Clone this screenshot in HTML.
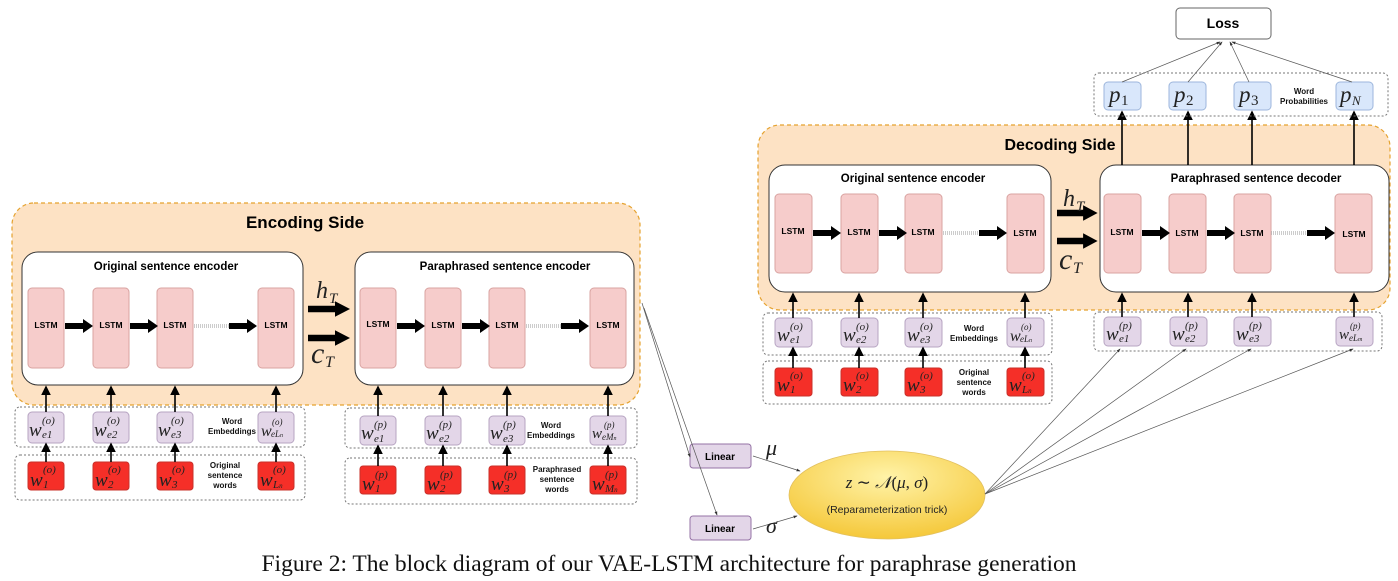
<!DOCTYPE html>
<html><head><meta charset="utf-8"><style>
html,body{margin:0;padding:0;background:#fff;}
svg{display:block;}
.t{font-family:"Liberation Sans",sans-serif;}
.b{font-family:"Liberation Sans",sans-serif;font-weight:bold;}
.m{font-family:"Liberation Serif",serif;font-style:italic;font-size:19px;fill:#222;}
.s{font-family:"Liberation Serif",serif;font-style:italic;font-size:11px;fill:#222;}
.lstm{fill:#f6cccb;stroke:#d9a3a1;stroke-width:1;}
.pu{fill:#e3d6e8;stroke:#b7a4c2;stroke-width:1;}
.rd{fill:#f52f28;stroke:#c9302a;stroke-width:1;}
.bl{fill:#d9e7fb;stroke:#9db6dc;stroke-width:1;}
.dot{fill:none;stroke:#777;stroke-width:1;stroke-dasharray:2,2;}
.wh{fill:#fff;stroke:#333;stroke-width:1;}
.or{fill:#fde2c4;stroke:#e5a22f;stroke-width:1.2;stroke-dasharray:4,3;}
.ln{stroke:#000;stroke-width:1.6;marker-end:url(#ah);}
.tl{stroke:#555;stroke-width:0.7;fill:none;marker-end:url(#ah2);}
.lab{font-family:"Liberation Sans",sans-serif;font-weight:bold;font-size:8px;fill:#111;}
</style></head><body>
<svg width="1398" height="581" viewBox="0 0 1398 581" xmlns="http://www.w3.org/2000/svg">
<defs>
<marker id="ah" markerWidth="6" markerHeight="6" refX="5" refY="3" orient="auto"><path d="M0,0 L6,3 L0,6 z" fill="#000"/></marker>
<marker id="ah2" markerWidth="6" markerHeight="6" refX="5" refY="3" orient="auto"><path d="M0,1 L6,3 L0,5 z" fill="#333"/></marker>
<radialGradient id="yg" cx="50%" cy="30%" r="70%"><stop offset="0" stop-color="#fff3a8"/><stop offset="1" stop-color="#f5c83a"/></radialGradient>
<symbol id="ta" overflow="visible"><path d="M0,-3 L18,-3 L18,-7 L28,0 L18,7 L18,3 L0,3 z" fill="#000"/></symbol>
</defs>

<!-- ================= ENCODING SIDE ================= -->
<rect class="or" x="12" y="203" width="628" height="202" rx="22"/>
<text class="b" x="305" y="228" font-size="17" text-anchor="middle">Encoding Side</text>

<rect class="wh" x="22" y="252" width="281" height="133" rx="16"/>
<text class="b" x="166" y="270" font-size="11.5" text-anchor="middle">Original sentence encoder</text>
<rect class="wh" x="355" y="252" width="279" height="133" rx="16"/>
<text class="b" x="505" y="270" font-size="11.5" text-anchor="middle">Paraphrased sentence encoder</text>

<g class="b" font-size="8.5" text-anchor="middle">
<rect class="lstm" x="28" y="288" width="36" height="80" rx="4"/><text x="46" y="328">LSTM</text>
<rect class="lstm" x="93" y="288" width="36" height="80" rx="4"/><text x="111" y="328">LSTM</text>
<rect class="lstm" x="157" y="288" width="36" height="80" rx="4"/><text x="175" y="328">LSTM</text>
<rect class="lstm" x="258" y="288" width="36" height="80" rx="4"/><text x="276" y="328">LSTM</text>
<rect class="lstm" x="360" y="288" width="36" height="80" rx="4"/><text x="378" y="327">LSTM</text>
<rect class="lstm" x="425" y="288" width="36" height="80" rx="4"/><text x="443" y="328">LSTM</text>
<rect class="lstm" x="489" y="288" width="36" height="80" rx="4"/><text x="507" y="328">LSTM</text>
<rect class="lstm" x="590" y="288" width="36" height="80" rx="4"/><text x="608" y="328">LSTM</text>
</g>
<use href="#ta" x="65" y="326"/>
<use href="#ta" x="130" y="326"/>
<use href="#ta" x="229" y="326"/>
<line x1="194" y1="325" x2="229" y2="325" stroke="#999" stroke-dasharray="1,1"/>
<line x1="194" y1="327" x2="229" y2="327" stroke="#999" stroke-dasharray="1,1"/>
<use href="#ta" x="397" y="326"/>
<use href="#ta" x="462" y="326"/>
<use href="#ta" x="561" y="326"/>
<line x1="526" y1="325" x2="561" y2="325" stroke="#999" stroke-dasharray="1,1"/>
<line x1="526" y1="327" x2="561" y2="327" stroke="#999" stroke-dasharray="1,1"/>
<g transform="translate(308,309) scale(1.5,1.1)"><use href="#ta"/></g>
<g transform="translate(308,338) scale(1.5,1.1)"><use href="#ta"/></g>
<text class="m" x="316" y="298" style="font-size:24px">h</text><text class="s" x="329" y="303" style="font-size:15px">T</text>
<text class="m" x="311" y="363" style="font-size:30px">c</text><text class="s" x="325" y="367" style="font-size:16px">T</text>

<rect class="dot" x="15" y="407" width="290" height="40" rx="5"/>
<rect class="dot" x="15" y="455" width="290" height="45" rx="5"/>
<rect class="dot" x="345" y="408" width="292" height="40" rx="5"/>
<rect class="dot" x="345" y="458" width="292" height="46" rx="5"/>

<g>
<rect class="pu" x="28" y="412" width="36" height="31" rx="4"/>
<rect class="pu" x="93" y="412" width="36" height="31" rx="4"/>
<rect class="pu" x="157" y="412" width="36" height="31" rx="4"/>
<rect class="pu" x="258" y="412" width="36" height="31" rx="4"/>
<rect class="rd" x="28" y="462" width="36" height="28" rx="3"/>
<rect class="rd" x="93" y="462" width="36" height="28" rx="3"/>
<rect class="rd" x="157" y="462" width="36" height="28" rx="3"/>
<rect class="rd" x="258" y="462" width="36" height="28" rx="3"/>
<rect class="pu" x="360" y="416" width="36" height="29" rx="4"/>
<rect class="pu" x="425" y="416" width="36" height="29" rx="4"/>
<rect class="pu" x="489" y="416" width="36" height="29" rx="4"/>
<rect class="pu" x="590" y="416" width="36" height="29" rx="4"/>
<rect class="rd" x="360" y="466" width="36" height="28" rx="3"/>
<rect class="rd" x="425" y="466" width="36" height="28" rx="3"/>
<rect class="rd" x="489" y="466" width="36" height="28" rx="3"/>
<rect class="rd" x="590" y="466" width="36" height="28" rx="3"/>
</g>
<g>
<line class="ln" x1="46" y1="462" x2="46" y2="444"/><line class="ln" x1="111" y1="462" x2="111" y2="444"/><line class="ln" x1="175" y1="462" x2="175" y2="444"/><line class="ln" x1="276" y1="462" x2="276" y2="444"/>
<line class="ln" x1="46" y1="412" x2="46" y2="387"/><line class="ln" x1="111" y1="412" x2="111" y2="387"/><line class="ln" x1="175" y1="412" x2="175" y2="387"/><line class="ln" x1="276" y1="412" x2="276" y2="387"/>
<line class="ln" x1="378" y1="466" x2="378" y2="446"/><line class="ln" x1="443" y1="466" x2="443" y2="446"/><line class="ln" x1="507" y1="466" x2="507" y2="446"/><line class="ln" x1="608" y1="466" x2="608" y2="446"/>
<line class="ln" x1="378" y1="416" x2="378" y2="387"/><line class="ln" x1="443" y1="416" x2="443" y2="387"/><line class="ln" x1="507" y1="416" x2="507" y2="387"/><line class="ln" x1="608" y1="416" x2="608" y2="387"/>
</g>
<text class="m" x="29" y="436">w</text><text class="s" x="42" y="424">(o)</text><text class="s" x="42" y="438">e1</text>
<text class="m" x="94" y="436">w</text><text class="s" x="107" y="424">(o)</text><text class="s" x="107" y="438">e2</text>
<text class="m" x="158" y="436">w</text><text class="s" x="171" y="424">(o)</text><text class="s" x="171" y="438">e3</text>
<text class="m" x="261" y="436" style="font-size:16px">w</text><text class="s" x="272" y="425" style="font-size:9px">(o)</text><text class="s" x="271" y="437" style="font-size:9px">eL<tspan style="font-size:6px">n</tspan></text>
<text class="lab" x="232" y="424" text-anchor="middle">Word</text><text class="lab" x="232" y="434" text-anchor="middle">Embeddings</text>
<text class="m" x="30" y="486">w</text><text class="s" x="43" y="473">(o)</text><text class="s" x="43" y="488">1</text>
<text class="m" x="95" y="486">w</text><text class="s" x="108" y="473">(o)</text><text class="s" x="108" y="488">2</text>
<text class="m" x="159" y="486">w</text><text class="s" x="172" y="473">(o)</text><text class="s" x="172" y="488">3</text>
<text class="m" x="260" y="486">w</text><text class="s" x="273" y="473">(o)</text><text class="s" x="273" y="488">L<tspan style="font-size:7px">n</tspan></text>
<text class="lab" x="225" y="468" text-anchor="middle">Original</text><text class="lab" x="225" y="478" text-anchor="middle">sentence</text><text class="lab" x="225" y="488" text-anchor="middle">words</text>

<text class="m" x="361" y="439">w</text><text class="s" x="374" y="428">(p)</text><text class="s" x="374" y="442">e1</text>
<text class="m" x="426" y="439">w</text><text class="s" x="439" y="428">(p)</text><text class="s" x="439" y="442">e2</text>
<text class="m" x="490" y="439">w</text><text class="s" x="503" y="428">(p)</text><text class="s" x="503" y="442">e3</text>
<text class="m" x="592" y="438" style="font-size:15px">w</text><text class="s" x="604" y="428" style="font-size:9px">(p)</text><text class="s" x="602" y="440" style="font-size:9px">eM<tspan style="font-size:6px">n</tspan></text>
<text class="lab" x="551" y="428" text-anchor="middle">Word</text><text class="lab" x="551" y="438" text-anchor="middle">Embeddings</text>
<text class="m" x="362" y="490">w</text><text class="s" x="375" y="478">(p)</text><text class="s" x="375" y="492">1</text>
<text class="m" x="427" y="490">w</text><text class="s" x="440" y="478">(p)</text><text class="s" x="440" y="492">2</text>
<text class="m" x="491" y="490">w</text><text class="s" x="504" y="478">(p)</text><text class="s" x="504" y="492">3</text>
<text class="m" x="592" y="490">w</text><text class="s" x="605" y="478">(p)</text><text class="s" x="605" y="492">M<tspan style="font-size:7px">n</tspan></text>
<text class="lab" x="557" y="472" text-anchor="middle">Paraphrased</text><text class="lab" x="557" y="482" text-anchor="middle">sentence</text><text class="lab" x="557" y="492" text-anchor="middle">words</text>

<!-- ================= DECODING SIDE ================= -->
<rect class="or" x="758" y="125" width="632" height="185" rx="22"/>
<text class="b" x="1060" y="150" font-size="16" text-anchor="middle">Decoding Side</text>
<rect class="wh" x="769" y="165" width="282" height="127" rx="16"/>
<text class="b" x="913" y="182" font-size="11.5" text-anchor="middle">Original sentence encoder</text>
<rect class="wh" x="1100" y="165" width="289" height="127" rx="16"/>
<text class="b" x="1256" y="182" font-size="11.5" text-anchor="middle">Paraphrased sentence decoder</text>
<g class="b" font-size="8.5" text-anchor="middle">
<rect class="lstm" x="775" y="194" width="37" height="79" rx="4"/><text x="793" y="234">LSTM</text>
<rect class="lstm" x="841" y="194" width="37" height="79" rx="4"/><text x="859" y="235">LSTM</text>
<rect class="lstm" x="905" y="194" width="37" height="79" rx="4"/><text x="923" y="235">LSTM</text>
<rect class="lstm" x="1007" y="194" width="37" height="79" rx="4"/><text x="1025" y="236">LSTM</text>
<rect class="lstm" x="1104" y="194" width="37" height="79" rx="4"/><text x="1122" y="235">LSTM</text>
<rect class="lstm" x="1169" y="194" width="37" height="79" rx="4"/><text x="1187" y="236">LSTM</text>
<rect class="lstm" x="1234" y="194" width="37" height="79" rx="4"/><text x="1252" y="236">LSTM</text>
<rect class="lstm" x="1335" y="194" width="37" height="79" rx="4"/><text x="1354" y="237">LSTM</text>
</g>
<use href="#ta" x="813" y="233"/><use href="#ta" x="879" y="233"/><use href="#ta" x="979" y="233"/>
<line x1="943" y1="232" x2="979" y2="232" stroke="#999" stroke-dasharray="1,1"/><line x1="943" y1="234" x2="979" y2="234" stroke="#999" stroke-dasharray="1,1"/>
<use href="#ta" x="1142" y="233"/><use href="#ta" x="1207" y="233"/><use href="#ta" x="1307" y="233"/>
<line x1="1271" y1="232" x2="1307" y2="232" stroke="#999" stroke-dasharray="1,1"/><line x1="1271" y1="234" x2="1307" y2="234" stroke="#999" stroke-dasharray="1,1"/>
<g transform="translate(1057,213) scale(1.45,1.1)"><use href="#ta"/></g>
<g transform="translate(1057,241) scale(1.45,1.1)"><use href="#ta"/></g>
<text class="m" x="1063" y="206" style="font-size:24px">h</text><text class="s" x="1076" y="211" style="font-size:15px">T</text>
<text class="m" x="1059" y="269" style="font-size:30px">c</text><text class="s" x="1073" y="273" style="font-size:16px">T</text>

<rect class="dot" x="763" y="313" width="289" height="42" rx="5"/>
<rect class="dot" x="763" y="361" width="289" height="43" rx="5"/>
<rect class="dot" x="1094" y="312" width="288" height="39" rx="5"/>
<rect class="pu" x="775" y="318" width="37" height="29" rx="4"/>
<rect class="pu" x="841" y="318" width="37" height="29" rx="4"/>
<rect class="pu" x="905" y="318" width="37" height="29" rx="4"/>
<rect class="pu" x="1007" y="318" width="37" height="29" rx="4"/>
<rect class="rd" x="775" y="368" width="37" height="28" rx="3"/>
<rect class="rd" x="841" y="368" width="37" height="28" rx="3"/>
<rect class="rd" x="905" y="368" width="37" height="28" rx="3"/>
<rect class="rd" x="1007" y="368" width="37" height="28" rx="3"/>
<rect class="pu" x="1104" y="317" width="37" height="29" rx="4"/>
<rect class="pu" x="1170" y="317" width="37" height="29" rx="4"/>
<rect class="pu" x="1234" y="317" width="37" height="29" rx="4"/>
<rect class="pu" x="1336" y="317" width="37" height="29" rx="4"/>
<g>
<line class="ln" x1="793" y1="368" x2="793" y2="348"/><line class="ln" x1="859" y1="368" x2="859" y2="348"/><line class="ln" x1="923" y1="368" x2="923" y2="348"/><line class="ln" x1="1025" y1="368" x2="1025" y2="348"/>
<line class="ln" x1="793" y1="318" x2="793" y2="294"/><line class="ln" x1="859" y1="318" x2="859" y2="294"/><line class="ln" x1="923" y1="318" x2="923" y2="294"/><line class="ln" x1="1025" y1="318" x2="1025" y2="294"/>
<line class="ln" x1="1122" y1="317" x2="1122" y2="294"/><line class="ln" x1="1188" y1="317" x2="1188" y2="294"/><line class="ln" x1="1252" y1="317" x2="1252" y2="294"/><line class="ln" x1="1354" y1="317" x2="1354" y2="294"/>
<line class="ln" x1="1122" y1="165" x2="1122" y2="112"/><line class="ln" x1="1188" y1="165" x2="1188" y2="112"/><line class="ln" x1="1252" y1="165" x2="1252" y2="112"/><line class="ln" x1="1354" y1="165" x2="1354" y2="112"/>
</g>
<text class="m" x="777" y="341">w</text><text class="s" x="790" y="330">(o)</text><text class="s" x="790" y="343">e1</text>
<text class="m" x="843" y="341">w</text><text class="s" x="856" y="330">(o)</text><text class="s" x="856" y="343">e2</text>
<text class="m" x="907" y="341">w</text><text class="s" x="920" y="330">(o)</text><text class="s" x="920" y="343">e3</text>
<text class="m" x="1010" y="341" style="font-size:16px">w</text><text class="s" x="1021" y="330" style="font-size:9px">(o)</text><text class="s" x="1020" y="342" style="font-size:9px">eL<tspan style="font-size:6px">n</tspan></text>
<text class="lab" x="974" y="331" text-anchor="middle">Word</text><text class="lab" x="974" y="341" text-anchor="middle">Embeddings</text>
<text class="m" x="777" y="391">w</text><text class="s" x="790" y="379">(o)</text><text class="s" x="790" y="393">1</text>
<text class="m" x="843" y="391">w</text><text class="s" x="856" y="379">(o)</text><text class="s" x="856" y="393">2</text>
<text class="m" x="907" y="391">w</text><text class="s" x="920" y="379">(o)</text><text class="s" x="920" y="393">3</text>
<text class="m" x="1009" y="391">w</text><text class="s" x="1022" y="379">(o)</text><text class="s" x="1022" y="393">L<tspan style="font-size:7px">n</tspan></text>
<text class="lab" x="974" y="375" text-anchor="middle">Original</text><text class="lab" x="974" y="385" text-anchor="middle">sentence</text><text class="lab" x="974" y="395" text-anchor="middle">words</text>

<text class="m" x="1106" y="340">w</text><text class="s" x="1119" y="329">(p)</text><text class="s" x="1119" y="342">e1</text>
<text class="m" x="1172" y="340">w</text><text class="s" x="1185" y="329">(p)</text><text class="s" x="1185" y="342">e2</text>
<text class="m" x="1236" y="340">w</text><text class="s" x="1249" y="329">(p)</text><text class="s" x="1249" y="342">e3</text>
<text class="m" x="1339" y="339" style="font-size:15px">w</text><text class="s" x="1350" y="329" style="font-size:9px">(p)</text><text class="s" x="1349" y="341" style="font-size:9px">eL<tspan style="font-size:6px">m</tspan></text>

<rect class="dot" x="1094" y="73" width="294" height="43" rx="5"/>
<rect class="bl" x="1104" y="82" width="37" height="28" rx="4"/>
<rect class="bl" x="1169" y="82" width="37" height="28" rx="4"/>
<rect class="bl" x="1234" y="82" width="37" height="28" rx="4"/>
<rect class="bl" x="1336" y="82" width="37" height="28" rx="4"/>
<text class="m" x="1109" y="102" style="font-size:23px">p</text><text class="s" x="1121" y="105" style="font-size:15px;font-style:normal">1</text>
<text class="m" x="1174" y="102" style="font-size:23px">p</text><text class="s" x="1186" y="105" style="font-size:15px;font-style:normal">2</text>
<text class="m" x="1239" y="102" style="font-size:23px">p</text><text class="s" x="1251" y="105" style="font-size:15px;font-style:normal">3</text>
<text class="m" x="1340" y="102" style="font-size:23px">p</text><text class="s" x="1352" y="105" style="font-size:13px">N</text>
<text class="lab" x="1304" y="94" text-anchor="middle">Word</text><text class="lab" x="1304" y="104" text-anchor="middle">Probabilities</text>

<rect x="1176" y="8" width="95" height="31" rx="4" fill="#fff" stroke="#666"/>
<text class="b" x="1223" y="28" font-size="14" text-anchor="middle">Loss</text>
<line class="tl" x1="1122" y1="82" x2="1220" y2="42"/>
<line class="tl" x1="1188" y1="82" x2="1222" y2="42"/>
<line class="tl" x1="1249" y1="82" x2="1230" y2="42"/>
<line class="tl" x1="1352" y1="82" x2="1232" y2="42"/>

<rect x="690" y="444" width="61" height="24" rx="3" fill="#e3d6e8" stroke="#9673a6"/>
<text class="b" x="720" y="460" font-size="10" text-anchor="middle">Linear</text>
<rect x="690" y="516" width="61" height="24" rx="3" fill="#e3d6e8" stroke="#9673a6"/>
<text class="b" x="720" y="532" font-size="10" text-anchor="middle">Linear</text>
<line class="tl" x1="642" y1="303" x2="690" y2="457"/>
<line class="tl" x1="644" y1="308" x2="717" y2="515"/>
<line class="tl" x1="753" y1="456" x2="800" y2="471"/>
<line class="tl" x1="753" y1="529" x2="797" y2="516"/>
<text class="m" x="766" y="455" style="font-size:22px">μ</text>
<text class="m" x="766" y="533" style="font-size:22px">σ</text>
<ellipse cx="887" cy="495" rx="98" ry="44" fill="url(#yg)" stroke="#e2c060" stroke-width="0.8"/>
<text x="887" y="488" font-family="Liberation Serif,serif" font-size="17" text-anchor="middle" fill="#222"><tspan font-style="italic">z</tspan> ∼ <tspan font-style="italic">𝒩</tspan>(<tspan font-style="italic">μ</tspan>, <tspan font-style="italic">σ</tspan>)</text>
<text class="t" x="887" y="513" font-size="10.5" text-anchor="middle" fill="#222">(Reparameterization trick)</text>
<line class="tl" x1="985" y1="494" x2="1120" y2="349"/>
<line class="tl" x1="985" y1="494" x2="1186" y2="349"/>
<line class="tl" x1="985" y1="494" x2="1251" y2="349"/>
<line class="tl" x1="985" y1="494" x2="1353" y2="349"/>

<text x="669" y="571" font-family="Liberation Serif,serif" font-size="23.5" text-anchor="middle" fill="#111">Figure 2: The block diagram of our VAE-LSTM architecture for paraphrase generation</text>
</svg>
</body></html>
